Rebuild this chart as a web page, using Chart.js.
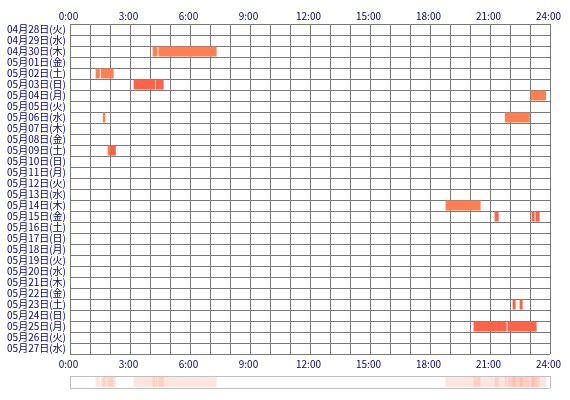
<!DOCTYPE html>
<html>
<head>
<meta charset="utf-8">
<script src="https://cdn.jsdelivr.net/npm/chart.js@4/dist/chart.umd.min.js"></script>
<style>
html,body{margin:0;padding:0;background:#fff;}
canvas{display:block;}
</style>
</head>
<body>
<canvas id="main" width="570" height="372"></canvas>
<canvas id="strip" width="570" height="28"></canvas>
<script>
// ---- data ----
const dayLabels = [
  '04月28日(火)','04月29日(水)','04月30日(木)','05月01日(金)','05月02日(土)',
  '05月03日(日)','05月04日(月)','05月05日(火)','05月06日(水)','05月07日(木)',
  '05月08日(金)','05月09日(土)','05月10日(日)','05月11日(月)','05月12日(火)',
  '05月13日(水)','05月14日(木)','05月15日(金)','05月16日(土)','05月17日(日)',
  '05月18日(月)','05月19日(火)','05月20日(水)','05月21日(木)','05月22日(金)',
  '05月23日(土)','05月24日(日)','05月25日(月)','05月26日(火)','05月27日(水)'
];
// segment: day index, start hour, end hour, tone (0 = coral, 1 = tomato)
const segDay   = [2,    2,    4,    4,    5,    5,    6,     8,    8,     11,   11,   16,    17,    17,    17,    25,    25,    27,    27];
const segStart = [4.13, 4.42, 1.28, 1.54, 3.18, 4.29, 23.03, 1.64, 21.74, 1.88, 2.00, 18.78, 21.23, 23.08, 23.28, 22.13, 22.48, 20.18, 21.88];
const segEnd   = [4.37, 7.33, 1.49, 2.18, 4.25, 4.68, 23.80, 1.77, 22.99, 2.00, 2.29, 20.53, 21.43, 23.23, 23.48, 22.28, 22.63, 21.83, 23.33];
const segTone  = [0,    0,    0,    0,    1,    1,    0,     0,    0,     0,    1,    0,     1,     1,     1,     1,     1,     1,     1];
const hourMin = 0, hourMax = 24;

const toneColors = ['#FF7F50', '#FF6347'];
const toneShade  = ['rgba(255,127,80,0.2)', 'rgba(255,99,71,0.17)'];
const FONT = {family: '"Noto Sans CJK JP", "Noto Sans", sans-serif', size: 10};
const TXT = '#000080';
const GRID = '#7a7a7a';

function segPoints(tone, yFn) {
  const pts = [];
  for (let i = 0; i < segDay.length; i++) {
    if (segTone[i] === tone) pts.push({x: [segStart[i], segEnd[i]], y: yFn(i)});
  }
  return pts;
}
const hourLabel = v => (v % 3 === 0 ? v + ':00' : '');

new Chart(document.getElementById('main'), {
  type: 'bar',
  data: {
    labels: dayLabels,
    datasets: [0, 1].map(t => ({
      data: segPoints(t, i => dayLabels[segDay[i]]),
      backgroundColor: toneColors[t],
      borderWidth: 0,
      grouped: false,
      barPercentage: 0.9,
      categoryPercentage: 1,
      xAxisID: 'x',
      yAxisID: 'y'
    }))
  },
  options: {
    indexAxis: 'y',
    responsive: false,
    animation: false,
    layout: {padding: {left: 0, right: 20, top: 0, bottom: 0}},
    plugins: {legend: {display: false}, tooltip: {enabled: false}},
    scales: {
      x: {
        type: 'linear', position: 'bottom', min: hourMin, max: hourMax,
        ticks: {stepSize: 1, autoSkip: false, maxRotation: 0, callback: hourLabel,
                color: TXT, font: FONT, padding: 4, labelOffset: -1.5},
        grid: {color: GRID, lineWidth: 1, drawTicks: false},
        border: {display: false},
        afterFit(s) { s.height = 18; }
      },
      x2: {
        type: 'linear', position: 'top', min: hourMin, max: hourMax,
        ticks: {stepSize: 1, autoSkip: false, maxRotation: 0, callback: hourLabel,
                color: TXT, font: FONT, padding: 2, labelOffset: -1.5},
        grid: {display: false, drawTicks: false},
        border: {display: false},
        afterFit(s) { s.height = 24; }
      },
      y: {
        type: 'category', offset: true,
        ticks: {color: TXT, font: FONT, padding: 4, autoSkip: false},
        grid: {offset: true, color: GRID, lineWidth: 1, drawTicks: false},
        border: {display: false},
        afterFit(s) { s.width = 70; }
      }
    }
  }
});

new Chart(document.getElementById('strip'), {
  type: 'bar',
  data: {
    labels: ['all'],
    datasets: [0, 1].map(t => ({
      data: segPoints(t, i => 'all'),
      backgroundColor: toneShade[t],
      borderWidth: 0,
      grouped: false,
      barPercentage: 0.85,
      categoryPercentage: 1
    }))
  },
  options: {
    indexAxis: 'y',
    responsive: false,
    animation: false,
    layout: {padding: {left: 70, right: 20, top: 4, bottom: 12}},
    plugins: {legend: {display: false}, tooltip: {enabled: false}},
    scales: {
      x: {
        type: 'linear', min: hourMin, max: hourMax,
        ticks: {display: false, stepSize: 24},
        grid: {color: '#c0c0c0', lineWidth: 1, drawTicks: false},
        border: {display: false},
        afterFit(s) { s.height = 0; }
      },
      y: {
        type: 'category', offset: true,
        ticks: {display: false},
        grid: {offset: true, color: '#c0c0c0', lineWidth: 1, drawTicks: false},
        border: {display: false},
        afterFit(s) { s.width = 0; }
      }
    }
  }
});
</script>
</body>
</html>
